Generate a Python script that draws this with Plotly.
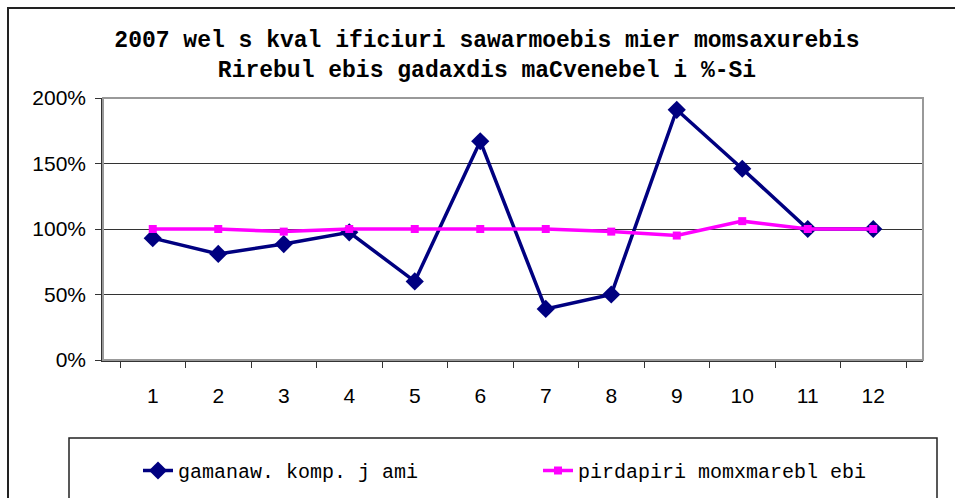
import plotly.graph_objects as go

months = ["1", "2", "3", "4", "5", "6", "7", "8", "9", "10", "11", "12"]
series_a_name = "gamanaw. komp. j ami"
series_a = [0.93, 0.81, 0.885, 0.975, 0.60, 1.67, 0.39, 0.50, 1.91, 1.46, 1.00, 1.00]
series_b_name = "pirdapiri momxmarebl ebi"
series_b = [1.00, 1.00, 0.98, 1.00, 1.00, 1.00, 1.00, 0.98, 0.95, 1.06, 1.00, 1.00]
title_lines = ["2007 wel s kval ificiuri sawarmoebis mier momsaxurebis",
               "Rirebul ebis gadaxdis maCvenebel i %-Si"]
y_ticks = [0, 0.5, 1.0, 1.5, 2.0]

W, H = 955, 498
L, R, T, B = 103, 923, 98, 360
pw, ph = R - L, B - T

def px_x(p):
    return (p - L) / pw

def px_y(p):
    return (B - p) / ph

fig = go.Figure()
fig.add_trace(go.Scatter(x=months, y=series_a, name=series_a_name, mode="lines+markers",
                         line=dict(color="#000080", width=3.5),
                         marker=dict(symbol="diamond", size=14, color="#000080")))
fig.add_trace(go.Scatter(x=months, y=series_b, name=series_b_name, mode="lines+markers",
                         line=dict(color="#FF00FF", width=3.5),
                         marker=dict(symbol="square", size=8, color="#FF00FF")))

fig.update_layout(
    width=W, height=H,
    margin=dict(l=L, r=W - R, t=T, b=H - B, pad=0, autoexpand=False),
    paper_bgcolor="white", plot_bgcolor="white",
    title=dict(text="<b>" + "<br>".join(title_lines) + "</b>",
               x=487 / W, xanchor="center", y=1 - 47 / H, yanchor="top",
               font=dict(family="Liberation Mono", size=23, color="black")),
    showlegend=True,
    legend=dict(orientation="h", x=px_x(138), xanchor="left", y=px_y(451), yanchor="top",
                font=dict(family="Liberation Mono", size=20, color="black"),
                entrywidth=355, entrywidthmode="pixels",
                bgcolor="rgba(0,0,0,0)", borderwidth=0, tracegroupgap=0),
    xaxis=dict(type="category", showgrid=False, showline=True, linecolor="#333333", linewidth=1.5,
               ticks="outside", tickson="boundaries", ticklen=6, tickcolor="#333333",
               tickfont=dict(family="Liberation Sans", size=21, color="black"),
               ticklabelstandoff=16, fixedrange=True, automargin=False),
    yaxis=dict(range=[0, 2], tickvals=y_ticks, tickformat=".0%", showgrid=True,
               gridcolor="#333333", gridwidth=1, showline=True, linecolor="#333333", linewidth=1.5,
               ticks="outside", ticklen=6, tickcolor="#333333", zeroline=False,
               tickfont=dict(family="Liberation Sans", size=21, color="black"),
               ticklabelstandoff=5, fixedrange=True, automargin=False),
    shapes=[
        dict(type="rect", xref="paper", yref="paper", x0=0, x1=1, y0=0, y1=1,
             line=dict(color="#999999", width=2), layer="above"),
        dict(type="rect", xref="paper", yref="paper", x0=px_x(8), x1=px_x(975), y0=px_y(520), y1=px_y(8),
             line=dict(color="#222222", width=2), layer="below"),
        dict(type="rect", xref="paper", yref="paper", x0=px_x(69), x1=px_x(937), y0=px_y(520), y1=px_y(438),
             line=dict(color="#222222", width=1.5), layer="below"),
    ],
)

fig.write_html("out.html", config={"displayModeBar": False},
               post_script="document.body.style.margin='0';document.body.style.overflow='hidden';")
